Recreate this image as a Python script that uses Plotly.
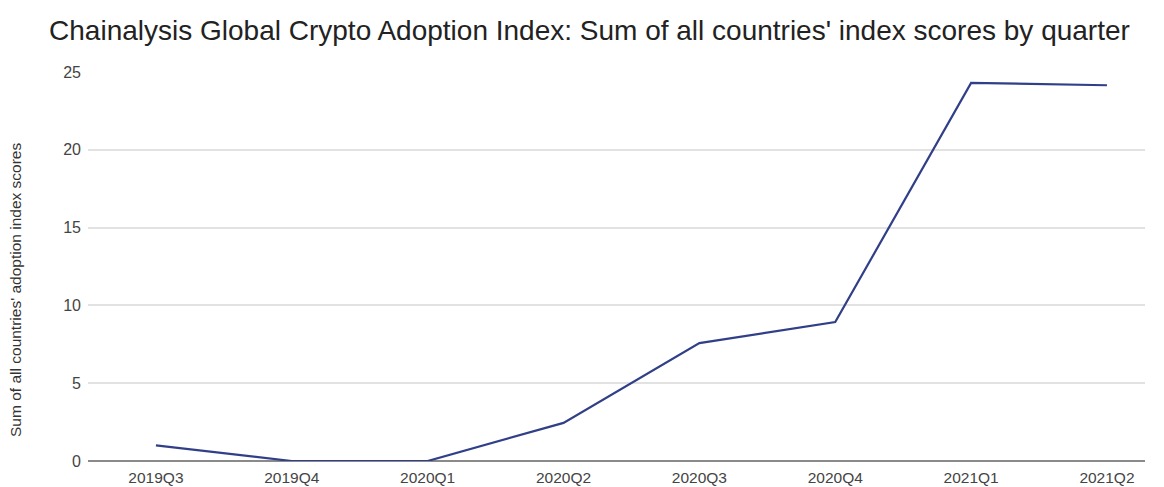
import plotly.graph_objects as go

quarters = ["2019Q3", "2019Q4", "2020Q1", "2020Q2", "2020Q3", "2020Q4", "2021Q1", "2021Q2"]
scores = [1.0, 0.0, 0.0, 2.45, 7.58, 8.93, 24.3, 24.15]
y_ticks = [0, 5, 10, 15, 20, 25]

fig = go.Figure()
fig.add_trace(go.Scatter(
    x=list(range(len(quarters))), y=scores, mode="lines",
    line=dict(color="#303f88", width=2.2),
    hoverinfo="skip", showlegend=False,
))

fig.update_layout(
    width=1156, height=479,
    paper_bgcolor="white", plot_bgcolor="white",
    margin=dict(l=80, r=19, t=64, b=26),
    font=dict(family="Liberation Sans, Arial, sans-serif", color="#444444"),
    title=dict(
        text="Chainalysis Global Crypto Adoption Index: Sum of all countries' index scores by quarter",
        x=0.503, xanchor="center", y=0.954, yanchor="middle",
        font=dict(size=28, color="#222222"),
    ),
    xaxis=dict(
        tickmode="array", tickvals=list(range(len(quarters))), ticktext=quarters,
        range=[-0.5, 7.28], showgrid=False, zeroline=False, showline=False,
        ticks="", ticklabelstandoff=5,
        tickfont=dict(size=15.5, color="#444444"), automargin=False,
    ),
    yaxis=dict(
        range=[0, 25], tickvals=y_ticks, showgrid=True, gridcolor="#e2e2e2", gridwidth=1.5,
        zeroline=True, zerolinecolor="#8a8a8a", zerolinewidth=2,
        showline=False, ticks="", ticklabelstandoff=6,
        tickfont=dict(size=16, color="#444444"), automargin=False,
    ),
    annotations=[dict(
        text="Sum of all countries' adoption index scores",
        xref="paper", yref="paper", x=-0.068, y=0.44,
        xanchor="center", yanchor="middle", textangle=-90, showarrow=False,
        font=dict(size=15.5, color="#333333"),
    )],
)

fig.write_html("out.html")
